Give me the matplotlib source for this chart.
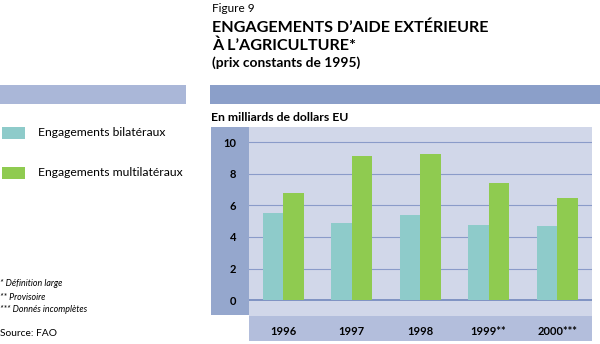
import matplotlib
matplotlib.use("Agg")
import matplotlib.pyplot as plt
from matplotlib.patches import Rectangle
import numpy as np

years = ["1996", "1997", "1998", "1999**", "2000***"]
bilateral = [5.5, 4.9, 5.4, 4.75, 4.7]
multilateral = [6.75, 9.1, 9.25, 7.4, 6.45]
yticks = [0, 2, 4, 6, 8, 10]
series_names = ["Engagements bilatéraux", "Engagements multilatéraux"]

C_BI = "#8ecbca"
C_MULTI = "#8fcb50"
C_PLOT = "#d1d7e9"
C_YBAND = "#95a7cd"
C_XBAND = "#b3bedc"
C_TOPL = "#aab7d8"
C_TOPR = "#8b9fc9"
C_GRID = "#8a9bc9"

plt.rcParams['font.family'] = ['Lato', 'DejaVu Sans']

W, H = 600, 344
fig = plt.figure(figsize=(6, 3.44), dpi=100)
fig.patch.set_facecolor("white")

def rect(x0, y0, x1, y1, color, z=0):
    fig.add_artist(Rectangle((x0 / W, 1 - y1 / H), (x1 - x0) / W, (y1 - y0) / H,
                             transform=fig.transFigure, facecolor=color,
                             edgecolor="none", zorder=z))

def txt(x, y, s, **kw):
    fig.text(x / W, 1 - y / H, s, **kw)

# header bars
rect(0, 85, 186, 104, C_TOPL)
rect(210, 85, 600, 104, C_TOPR)
# y band and x band
rect(211, 127, 249, 315, C_YBAND)
rect(249, 316, 592, 341, C_XBAND)

# titles
txt(212, 9, "Figure 9", fontsize=8.5, va="center", ha="left", color="black")
txt(212, 27.5, "ENGAGEMENTS D’AIDE EXTÉRIEURE", fontsize=11.6, fontweight="bold", va="center", ha="left")
txt(212, 45.5, "À L’AGRICULTURE*", fontsize=11.6, fontweight="bold", va="center", ha="left")
txt(212, 62.5, "(prix constants de 1995)", fontsize=9.9, fontweight="bold", va="center", ha="left")
txt(211, 118, "En milliards de dollars EU", fontsize=8.8, fontweight="bold", va="center", ha="left")

# legend
rect(2, 127, 25, 139, C_BI)
rect(2, 167, 25, 179, C_MULTI)
txt(38, 133, series_names[0], fontsize=8.7, va="center", ha="left")
txt(38, 173, series_names[1], fontsize=8.7, va="center", ha="left")

# footnotes
txt(0, 284, "* Définition large", fontsize=6.4, style="italic", va="center", ha="left")
txt(0, 297, "** Provisoire", fontsize=6.4, style="italic", va="center", ha="left")
txt(0, 310, "*** Donnés incomplètes", fontsize=6.4, style="italic", va="center", ha="left")
txt(0, 333, "Source: FAO", fontsize=7.4, va="center", ha="left")

# axes
ax = fig.add_axes([249 / W, 1 - 316 / H, (592 - 249) / W, (316 - 127) / H])
ax.set_facecolor(C_PLOT)
x = np.arange(len(years))
w = 0.3
ax.bar(x - w / 2, bilateral, width=w, color=C_BI, zorder=3)
ax.bar(x + w / 2, multilateral, width=w, color=C_MULTI, zorder=3)
ax.set_xlim(-0.5, 4.51)
ax.set_ylim(-1.0, 10.95)
for t in yticks:
    if t == 0:
        ax.axhline(t, color="#7f93c2", lw=1.4, zorder=2)
    else:
        ax.axhline(t, color=C_GRID, lw=0.8, zorder=2)
ax.set_yticks(yticks)
ax.set_yticklabels([str(t) for t in yticks], fontsize=8, fontweight="bold")
ax.tick_params(axis="y", length=0, pad=9)
ax.set_xticks(x)
ax.set_xticklabels(years, fontsize=8, fontweight="bold")
ax.tick_params(axis="x", length=0, pad=7.5)
for s in ax.spines.values():
    s.set_visible(False)

fig.savefig("out.png", dpi=100, facecolor="white")
